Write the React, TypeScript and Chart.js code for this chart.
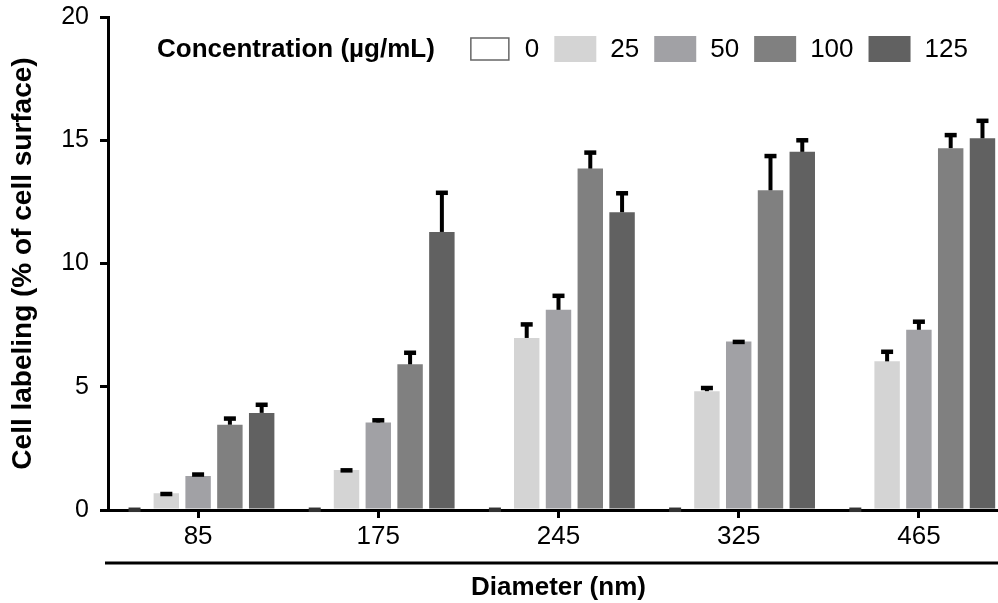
import React, { useEffect, useRef } from 'react';
import { Chart, registerables } from 'chart.js';

Chart.register(...registerables);

const categories = ['85', '175', '245', '325', '465'];
const seriesLabels = ['0', '25', '50', '100', '125'];

const values0 = [0, 0, 0, 0, 0];
const values25 = [0.68, 1.62, 6.98, 4.82, 6.03];
const values50 = [1.38, 3.55, 8.12, 6.84, 7.31];
const values100 = [3.46, 5.91, 13.85, 12.97, 14.68];
const values125 = [3.94, 11.28, 12.08, 14.53, 15.08];

const err0 = [0.1, 0.1, 0.1, 0.1, 0.1];
const err25 = [0.06, 0.08, 0.64, 0.22, 0.48];
const err50 = [0.15, 0.18, 0.66, 0.07, 0.42];
const err100 = [0.34, 0.56, 0.74, 1.48, 0.62];
const err125 = [0.42, 1.68, 0.86, 0.56, 0.8];

const yTicks = [0, 5, 10, 15, 20];

const barColors = ['#ffffff', '#d4d4d4', '#a1a1a5', '#808080', '#616161'];

const FONT = "'Liberation Sans', Arial, Helvetica, sans-serif";

export default function App() {
  const ref = useRef<HTMLCanvasElement | null>(null);

  useEffect(() => {
    const canvas = ref.current;
    if (!canvas) return;

    const allValues = [values0, values25, values50, values100, values125];
    const allErrors = [err0, err25, err50, err100, err125];

    const errorBars = {
      id: 'errorBars',
      afterDatasetsDraw(chart: any) {
        const ctx = chart.ctx;
        const yScale = chart.scales.y;
        ctx.save();
        chart.data.datasets.forEach((ds: any, di: number) => {
          const meta = chart.getDatasetMeta(di);
          const errs = allErrors[di];
          meta.data.forEach((el: any, i: number) => {
            const v = ds.data[i];
            const e = errs[i];
            const yTop = yScale.getPixelForValue(v);
            const yErr = yScale.getPixelForValue(v + e);
            ctx.strokeStyle = '#000';
            ctx.fillStyle = di === 0 ? '#333' : '#000';
            ctx.lineWidth = 4;
            if (yTop - yErr > 3) {
              ctx.beginPath();
              ctx.moveTo(el.x, yTop);
              ctx.lineTo(el.x, yErr + 1);
              ctx.stroke();
            }
            ctx.fillRect(el.x - 6, yErr, 12, 4.5);
          });
        });
        ctx.restore();
      },
    };

    const extras = {
      id: 'extras',
      afterDraw(chart: any) {
        const ctx = chart.ctx;
        const area = chart.chartArea;
        ctx.save();
        // separator line under the tick labels
        ctx.strokeStyle = '#000';
        ctx.lineWidth = 3;
        ctx.beginPath();
        ctx.moveTo(area.left - 3, area.bottom + 53);
        ctx.lineTo(chart.width, area.bottom + 53);
        ctx.stroke();

        // legend
        const cy = area.top + 32;
        let x = area.left + 49;
        ctx.textBaseline = 'middle';
        ctx.textAlign = 'left';
        ctx.fillStyle = '#000';
        ctx.font = `bold 26px ${FONT}`;
        const title = 'Concentration (\u00b5g/mL)';
        ctx.fillText(title, x, cy + 1);
        x += ctx.measureText(title).width + 34;
        ctx.font = `26px ${FONT}`;
        chart.data.datasets.forEach((ds: any, di: number) => {
          const bw = 42;
          const bh = 26;
          if (di === 0) {
            ctx.fillStyle = '#fff';
            ctx.fillRect(x + 2, cy - bh / 2 + 2, bw - 4, bh - 4);
            ctx.strokeStyle = '#666';
            ctx.lineWidth = 1.5;
            ctx.strokeRect(x + 2, cy - bh / 2 + 2, bw - 4, bh - 4);
          } else {
            ctx.fillStyle = ds.backgroundColor;
            ctx.fillRect(x, cy - bh / 2, bw, bh);
          }
          x += bw + 14;
          ctx.fillStyle = '#000';
          ctx.fillText(ds.label, x, cy + 1);
          x += ctx.measureText(ds.label).width + 15;
        });
        ctx.restore();
      },
    };

    const chart = new Chart(canvas, {
      type: 'bar',
      data: {
        labels: categories,
        datasets: seriesLabels.map((label, i) => ({
          label,
          data: allValues[i],
          backgroundColor: barColors[i],
          borderWidth: 0,
          categoryPercentage: 0.882,
          barPercentage: 0.8,
        })),
      },
      options: {
        animation: false,
        responsive: false,
        maintainAspectRatio: false,
        layout: { padding: { top: 17, right: 3, left: 0, bottom: 0 } },
        plugins: {
          legend: { display: false },
          tooltip: { enabled: false },
        },
        scales: {
          x: {
            grid: {
              display: true,
              drawOnChartArea: false,
              offset: false,
              drawTicks: true,
              tickLength: 8,
              color: '#000',
              lineWidth: 3,
            },
            border: { display: true, color: '#000', width: 3 },
            ticks: {
              color: '#000',
              font: { family: FONT, size: 26 },
              padding: 3,
            },
            title: {
              display: true,
              text: 'Diameter (nm)',
              color: '#000',
              font: { family: FONT, size: 26, weight: 'bold' },
              padding: { top: 0, bottom: 0 },
            },
            afterFit: (s: any) => {
              s.height = 93;
              s.paddingLeft = 0;
              s.paddingRight = 0;
            },
          },
          y: {
            min: 0,
            max: 20,
            afterBuildTicks: (s: any) => {
              s.ticks = yTicks.map((v) => ({ value: v }));
            },
            grid: {
              display: true,
              drawOnChartArea: false,
              drawTicks: true,
              tickLength: 8,
              color: '#000',
              lineWidth: 3,
            },
            border: { display: true, color: '#000', width: 3 },
            ticks: {
              color: '#000',
              font: { family: FONT, size: 25 },
              padding: 11,
            },
            title: {
              display: true,
              text: 'Cell labeling (% of cell surface)',
              color: '#000',
              font: { family: FONT, size: 28, weight: 'bold' },
              padding: { top: 6, bottom: 0 },
            },
            afterFit: (s: any) => {
              s.width = 108;
              s.paddingTop = 0;
              s.paddingBottom = 0;
            },
          },
        },
      },
      plugins: [errorBars, extras],
    });

    return () => chart.destroy();
  }, []);

  return (
    <div
      style={{
        position: 'fixed',
        left: 0,
        top: 0,
        width: 998,
        height: 603,
        overflow: 'hidden',
        background: '#fff',
      }}
    >
      <canvas ref={ref} width={1012} height={603} style={{ width: 1012, height: 603, display: 'block' }} />
    </div>
  );
}
